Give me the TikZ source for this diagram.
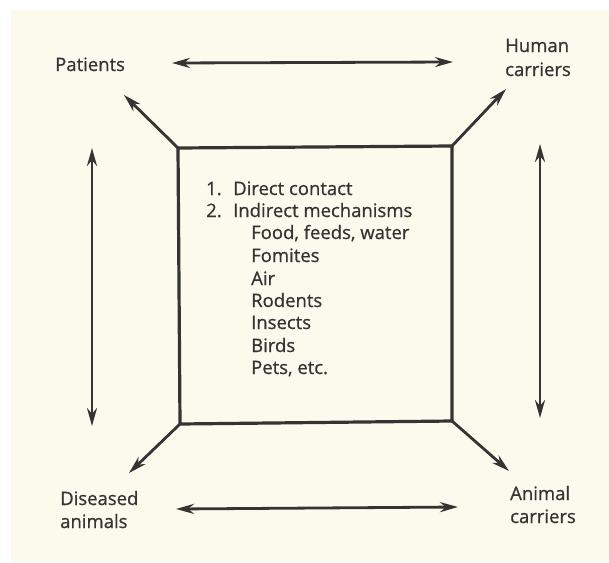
\documentclass[tikz,border=0pt]{standalone}
\usepackage{fontspec}
\setmainfont{Open Sans}
\newfontfamily\medfont{Open Sans}[FakeBold=0.7]
\usetikzlibrary{arrows.meta}
\definecolor{paper}{RGB}{252,249,237}
\definecolor{ink}{RGB}{52,52,50}
\begin{document}
\begin{tikzpicture}[x=1pt,y=-1pt,
  lbl/.style={anchor=base west,inner sep=0pt,text=ink,font=\medfont\fontsize{18.5}{23}\selectfont},
  arr/.style={draw=ink,line width=2.8pt,-{Stealth[length=18pt,width=10pt]}},
  darr/.style={draw=ink,line width=2.8pt,{Stealth[length=18pt,width=10pt]}-{Stealth[length=18pt,width=10pt]}},
  boxline/.style={draw=ink,line width=3.2pt}]
\useasboundingbox (0,0) rectangle (609,562);
\fill[white] (0,0) rectangle (609,562);
\fill[paper] (11,10) rectangle (609,562);
% labels
\node[lbl] (pat) at (55,71) {Patients};
\node[lbl] (hum1) at (505,52) {Human};
\node[lbl] (hum2) at (505,76) {carriers};
\node[lbl] (dis1) at (60,505) {Diseased};
\node[lbl] (dis2) at (60,528) {animals};
\node[lbl] (ani1) at (510,500) {Animal};
\node[lbl] (ani2) at (510,523) {carriers};
% central box
\coordinate (bnw) at (178,148);
\coordinate (bne) at (452,146);
\coordinate (bse) at (452,421);
\coordinate (bsw) at (180,424);
\draw[boxline,line join=miter] (bnw) -- (bne) -- (bse) -- (bsw) -- cycle;
% box text
\node[lbl] (n1) at (206,195) {1.};
\node[lbl] (t1) at (233,195) {Direct contact};
\node[lbl] (n2) at (206,217) {2.};
\node[lbl] (t2) at (233,217) {Indirect mechanisms};
\node[lbl] (t3) at (251,239) {Food, feeds, water};
\node[lbl] (t4) at (251,262) {Fomites};
\node[lbl] (t5) at (251,285) {Air};
\node[lbl] (t6) at (251,307) {Rodents};
\node[lbl] (t7) at (251,329) {Insects};
\node[lbl] (t8) at (251,352) {Birds};
\node[lbl] (t9) at (251,374) {Pets, etc.};
% arrow ends
\coordinate (pA) at (124,95);
\coordinate (hA) at (506,89);
\coordinate (dA) at (129,473);
\coordinate (aA) at (509,471);
\draw[arr] (bnw) -- (pA);
\draw[arr] (bne) -- (hA);
\draw[arr] (bsw) -- (dA);
\draw[arr] (bse) -- (aA);
% horizontal and vertical double arrows
\coordinate (ht1) at (172,63);
\coordinate (ht2) at (453,62);
\coordinate (hb1) at (176,509);
\coordinate (hb2) at (458,507);
\coordinate (vl1) at (92,148);
\coordinate (vl2) at (92,426);
\coordinate (vr1) at (540,144);
\coordinate (vr2) at (540,418);
\draw[darr] (ht1) -- (ht2);
\draw[darr] (hb1) -- (hb2);
\draw[darr] (vl1) -- (vl2);
\draw[darr] (vr1) -- (vr2);
\end{tikzpicture}
\end{document}
